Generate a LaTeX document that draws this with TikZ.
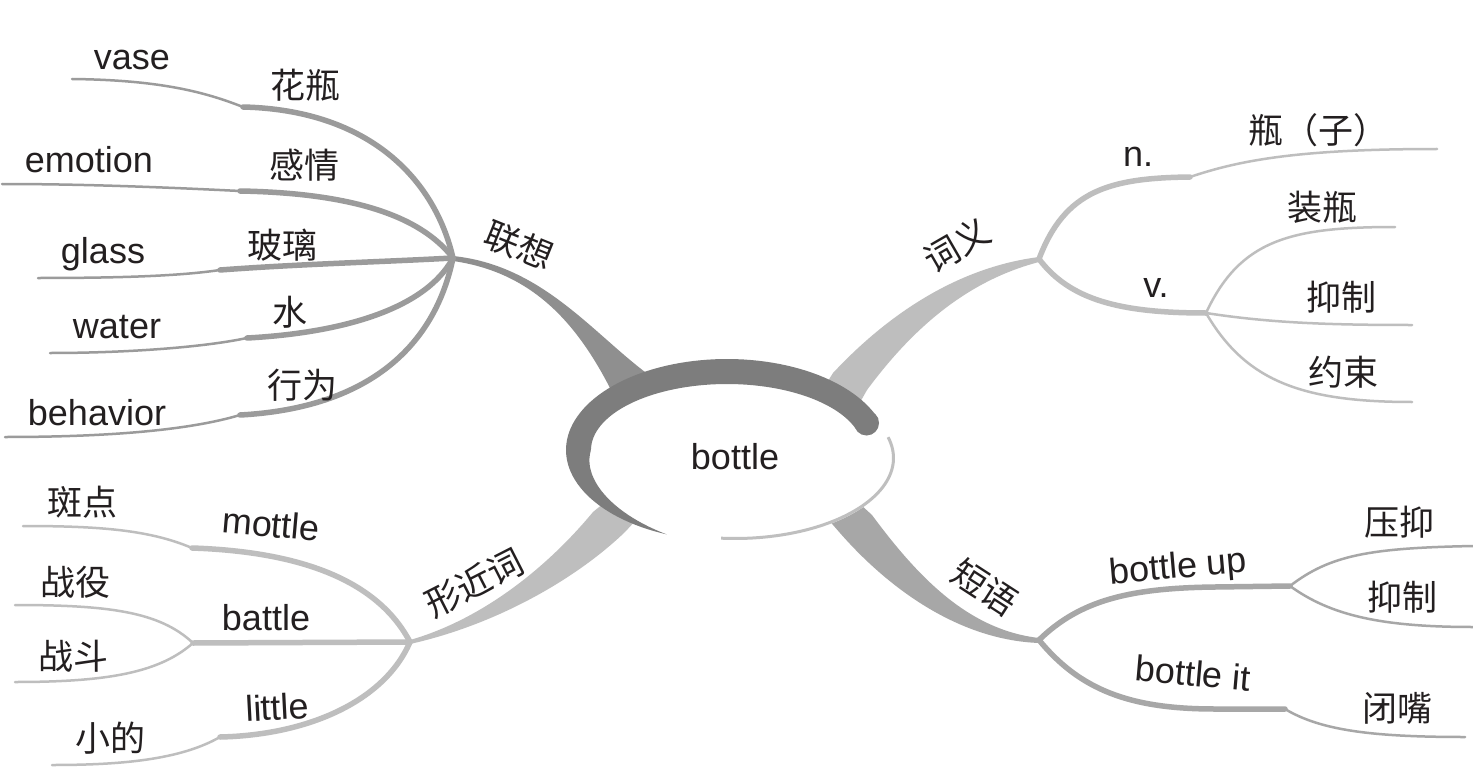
\documentclass[tikz,border=0pt]{standalone}
\usepackage{fontspec}
\setmainfont{Liberation Sans}
\newfontfamily\cjk{Noto Sans CJK SC}
\definecolor{ringc}{HTML}{7D7D7D}
\definecolor{lxtrunk}{HTML}{8F8F8F}
\definecolor{lxb}{HTML}{9B9B9B}
\definecolor{ltg}{HTML}{BEBEBE}
\definecolor{dyt}{HTML}{A7A7A7}
\definecolor{txt}{HTML}{231F20}
\tikzset{
  en/.style={font=\fontsize{36}{40}\selectfont, text=txt, anchor=base, inner sep=0pt},
  cn/.style={font=\cjk\fontsize{35}{40}\selectfont, text=txt, inner sep=0pt},
  thk/.style={line width=5.5pt, line cap=round},
  thn/.style={line width=2.5pt, line cap=round},
  lx/.style={draw=lxb},
  lt/.style={draw=ltg},
  dy/.style={draw=dyt},
}
\begin{document}
\begin{tikzpicture}[x=1pt,y=-1pt]
\fill[white] (0,0) rectangle (1473,781);
\useasboundingbox (0,0) rectangle (1473,781);

% hubs and branch points
\coordinate (H1) at (453,258);
\coordinate (H2) at (1039,259);
\coordinate (H3) at (410,642);
\coordinate (H4) at (1039,640);
\coordinate (V) at (1206,313);
\coordinate (U) at (1290,586);

% ---------- trunks ----------
\fill[lxtrunk] (453,256) .. controls (540,265) and (590,330) .. (645,372) -- (680,410) -- (640,420) -- (610,388) .. controls (575,320) and (530,272) .. (453,261) -- cycle;
\fill[ltg] (1039,257) .. controls (960,267) and (890,312) .. (833,373) -- (810,410) -- (850,420) -- (867,390) .. controls (915,325) and (970,280) .. (1039,262) -- cycle;
\fill[ltg] (410,640) .. controls (480,620) and (545,570) .. (593,512) -- (620,490) -- (650,505) -- (625,532) .. controls (575,580) and (495,625) .. (410,644) -- cycle;
\fill[dyt] (872,515) .. controls (920,580) and (970,630) .. (1039,638) -- (1039,643) .. controls (960,640) and (890,590) .. (840,533) -- (820,510) -- (850,495) -- cycle;

% ---------- 联想 branches ----------
\coordinate (k1) at (243,107); \coordinate (e1) at (72,79);
\coordinate (k2) at (240,191); \coordinate (e2) at (2,184);
\coordinate (k3) at (220,270); \coordinate (e3) at (38,278);
\coordinate (k4) at (247,338); \coordinate (e4) at (50,353);
\coordinate (k5) at (240,415); \coordinate (e5) at (5,437);
\draw[lx,thk] (H1) .. controls (435,180) and (370,110) .. (k1);
\draw[lx,thn] (k1) .. controls (205,92) and (160,80) .. (e1);
\draw[lx,thk] (H1) .. controls (420,215) and (350,193) .. (k2);
\draw[lx,thn] (k2) .. controls (160,187) and (80,184) .. (e2);
\draw[lx,thk] (H1) .. controls (380,262) and (300,264) .. (k3);
\draw[lx,thn] (k3) .. controls (180,276) and (120,278) .. (e3);
\draw[lx,thk] (H1) .. controls (425,310) and (340,333) .. (k4);
\draw[lx,thn] (k4) .. controls (200,348) and (120,353) .. (e4);
\draw[lx,thk] (H1) .. controls (435,345) and (370,408) .. (k5);
\draw[lx,thn] (k5) .. controls (190,430) and (110,437) .. (e5);

% ---------- 形近词 branches ----------
\coordinate (k6) at (192,548); \coordinate (e6) at (23,526);
\coordinate (k7) at (193,643); \coordinate (e7) at (15,605); \coordinate (e8) at (15,682);
\coordinate (k9) at (220,737); \coordinate (e9) at (52,765);
\draw[lt,thk] (H3) .. controls (380,585) and (310,552) .. (k6);
\draw[lt,thn] (k6) .. controls (150,530) and (100,526) .. (e6);
\draw[lt,thk] (H3) -- (k7);
\draw[lt,thn] (k7) .. controls (160,612) and (110,605) .. (e7);
\draw[lt,thn] (k7) .. controls (160,672) and (110,682) .. (e8);
\draw[lt,thk] (H3) .. controls (385,700) and (310,735) .. (k9);
\draw[lt,thn] (k9) .. controls (180,760) and (120,765) .. (e9);

% ---------- 词义 branches ----------
\coordinate (kn) at (1190,177); \coordinate (en) at (1437,149);
\coordinate (ez) at (1395,227); \coordinate (ey) at (1412,325); \coordinate (es) at (1412,402);
\draw[lt,thk] (H2) .. controls (1065,190) and (1110,178) .. (kn);
\draw[lt,thn] (kn) .. controls (1240,160) and (1300,149) .. (en);
\draw[lt,thk] (H2) .. controls (1070,300) and (1120,313) .. (V);
\draw[lt,thn] (V) .. controls (1240,240) and (1290,227) .. (ez);
\draw[lt,thn] (V) .. controls (1270,323) and (1330,325) .. (ey);
\draw[lt,thn] (V) .. controls (1245,380) and (1300,402) .. (es);

% ---------- 短语 branches ----------
\coordinate (ku) at (1215,587); \coordinate (kb) at (1285,709);
\coordinate (ea) at (1473,546); \coordinate (eb) at (1473,627); \coordinate (ec) at (1465,737);
\draw[dy,thk] (H4) .. controls (1080,600) and (1130,588) .. (ku) -- (U);
\draw[dy,thn] (U) .. controls (1330,555) and (1370,548) .. (ea);
\draw[dy,thn] (U) .. controls (1330,615) and (1380,627) .. (eb);
\draw[dy,thk] (H4) .. controls (1080,690) and (1130,709) .. (1215,709) -- (kb);
\draw[dy,thn] (kb) .. controls (1320,730) and (1370,737) .. (ec);

% ---------- centre ----------
\fill[white] (735,458) ellipse [x radius=160pt, y radius=82pt];
\draw[gray!50, line width=3pt] plot[domain=-15:95, samples=50, variable=\t] ({735+158.5*cos(\t)},{458+80.5*sin(\t)});
\fill[ringc] plot[domain=112:340, samples=90, variable=\t] ({727+161*cos(\t)},{450+91*sin(\t)})
  -- plot[domain=340:112, samples=90, variable=\t] ({727+(161-min(25,25*(\t-112)/68))*cos(\t)},{450+(91-min(25,25*(\t-112)/68))*sin(\t)}) -- cycle;
\fill[ringc] (866.5,423) circle[radius=12.5pt];
\node[en] (tbot) at (735,469) {bottle};

% ---------- labels ----------
\node[en] (tvase) at (132,70) {vase};
\node[cn] (thp) at (305,85) {花瓶};
\node[en] (temo) at (89,172) {emotion};
\node[cn] (tgq) at (304,165) {感情};
\node[en] (tgla) at (103,263) {glass};
\node[cn] (tbl) at (282,245) {玻璃};
\node[en] (twat) at (117,338) {water};
\node[cn] (tsh) at (290,312) {水};
\node[en] (tbeh) at (97,425) {behavior};
\node[cn] (txw) at (302,385) {行为};
\node[cn, rotate=-22] (tlx) at (519,245) {联想};

\node[cn, rotate=30] (tcy) at (957,245) {词义};
\node[en] (tn) at (1138,167) {n.};
\node[cn] (tpz) at (1318,130) {瓶（子）};
\node[cn] (tzp) at (1322,207) {装瓶};
\node[en] (tv) at (1156,297) {v.};
\node[cn] (tyz1) at (1341,297) {抑制};
\node[cn] (tys) at (1343,372) {约束};

\node[cn, rotate=27] (txjc) at (474,583) {形近词};
\node[cn] (tbd) at (82,502) {斑点};
\node[en, rotate=-5] (tmot) at (270,537) {mottle};
\node[cn] (tzy) at (75,582) {战役};
\node[en] (tbat) at (266,630) {battle};
\node[cn] (tzd) at (73,656) {战斗};
\node[en, rotate=3] (tlit) at (278,720) {little};
\node[cn] (txd) at (110,738) {小的};

\node[cn, rotate=-33] (tdy) at (985,587) {短语};
\node[en, rotate=5] (tbu) at (1179,578) {bottle up};
\node[cn] (tyy) at (1399,522) {压抑};
\node[cn] (tyz2) at (1402,597) {抑制};
\node[en, rotate=-5] (tbi) at (1192,686) {bottle it};
\node[cn] (tbz) at (1397,708) {闭嘴};
\end{tikzpicture}
\end{document}
